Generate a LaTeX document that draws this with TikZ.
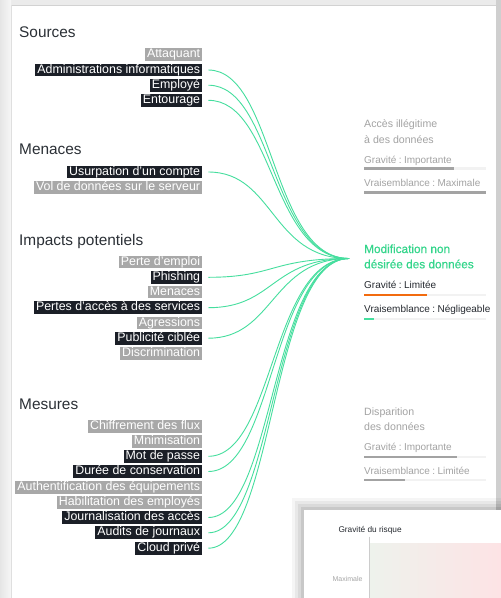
\documentclass[tikz,border=0pt]{standalone}
\usepackage{fontspec}
\setmainfont{Liberation Sans}
\newfontface\medfont[FakeBold=0.6]{Liberation Sans}
\usetikzlibrary{calc}
\definecolor{bgc}{HTML}{EBEBEB}
\definecolor{labgrey}{HTML}{A8A8A8}
\definecolor{labdark}{HTML}{1B1F27}
\definecolor{linkgreen}{HTML}{45DE9E}
\definecolor{titlec}{HTML}{2B3036}
\definecolor{mutedc}{HTML}{A3A3A3}
\definecolor{greentext}{HTML}{35D68C}
\definecolor{orangebar}{HTML}{F26B0F}
\definecolor{barbg}{HTML}{F2F2F2}
\definecolor{darktext}{HTML}{262A30}
\definecolor{gradl}{HTML}{EEF2EC}
\definecolor{gradr}{HTML}{FDE3E5}
\newcommand{\csep}{\hspace{2.4pt}:\hspace{2.4pt}}
\begin{document}
\begin{tikzpicture}[x=1pt,y=-1pt,
 lab/.style={anchor=east, text=white, font=\fontsize{12.4}{14}\selectfont, inner xsep=2pt, inner ysep=0pt, text height=9.6pt, text depth=3.3pt},
 glab/.style={lab, fill=labgrey},
 dlab/.style={lab, fill=labdark},
 ttl/.style={anchor=base west, inner sep=0pt, text=titlec, font=\fontsize{15.4}{18}\selectfont},
 conn/.style={draw=linkgreen, line width=0.9pt},
 rhead/.style={anchor=base west, inner sep=0pt, font=\fontsize{10.6}{13}\selectfont},
 rheadhl/.style={anchor=base west, inner sep=0pt, font=\medfont\fontsize{11.8}{13}\selectfont},
 rsub/.style={anchor=base west, inner sep=0pt, font=\fontsize{10}{12}\selectfont}
]
\useasboundingbox (0,0) rectangle (501,598);
% background and panel
\fill[bgc] (0,0) rectangle (501,598);
\shade[left color=gray!20, right color=gray!7] (0,0) rectangle (11,598);
\fill[gray!38] (496,0) rectangle (501,598);
\fill[white] (11,5) rectangle (496,598);
\draw[gray!35, line width=0.8pt] (11,5.4) -- (496,5.4);
\draw[gray!25, line width=0.8pt] (11.4,5) -- (11.4,598);

% titles
\node[ttl] (tsrc) at (19,37.7) {Sources};
\node[ttl] (tmen) at (19,154.3) {Menaces};
\node[ttl] (timp) at (19,245) {Impacts potentiels};
\node[ttl] (tmes) at (19,409.3) {Mesures};

% labels
\node[glab] (att) at (202.3,54.7) {Attaquant};
\node[dlab] (adm) at (202.3,70) {Administrations informatiques};
\node[dlab] (emp) at (202.3,85.2) {Employé};
\node[dlab] (ent) at (202.3,100.3) {Entourage};

\node[dlab] (usu) at (202.3,172) {Usurpation d’un compte};
\node[glab] (vol) at (202.3,187.3) {Vol de données sur le serveur};

\node[glab] (per) at (202.3,262) {Perte d’emploi};
\node[dlab] (phi) at (202.3,277.3) {Phishing};
\node[glab] (mna) at (202.3,292) {Menaces};
\node[dlab] (pac) at (202.3,307.7) {Pertes d’accès à des services};
\node[glab] (agr) at (202.3,323) {Agressions};
\node[dlab] (pub) at (202.3,338.2) {Publicité ciblée};
\node[glab] (dis) at (202.3,353.5) {Discrimination};

\node[glab] (chi) at (202.3,426.2) {Chiffrement des flux};
\node[glab] (mni) at (202.3,441.3) {Mnimisation};
\node[dlab] (mot) at (202.3,456.3) {Mot de passe};
\node[dlab] (dur) at (202.3,471.5) {Durée de conservation};
\node[glab] (aut) at (202.3,487.2) {Authentification des équipements};
\node[glab] (hab) at (202.3,502.3) {Habilitation des employés};
\node[dlab] (jou) at (202.3,517.5) {Journalisation des accès};
\node[dlab] (aud) at (202.3,532.8) {Audits de journaux};
\node[dlab] (clo) at (202.3,548.2) {Cloud privé};

% hub
\coordinate (hub) at (349,258.5);
\foreach \n in {adm,emp,ent,usu,phi,pac,pub,mot,dur,jou,aud,clo}{
  \draw[conn] ([xshift=6pt]\n.east) .. controls +(66,0) and +(-78,0) .. (hub);
}

% right side: scenario 1
\node[rhead, text=mutedc] (s1a) at (364,127.7) {Accès illégitime};
\node[rhead, text=mutedc] (s1b) at (364,143.3) {à des données};
\node[rsub, text=mutedc] (s1g) at (364,163.3) {Gravité\csep Importante};
\fill[barbg] (364,167) rectangle (486,169.6);
\fill[mutedc] (364,167) rectangle (454,169.6);
\node[rsub, text=mutedc] (s1v) at (364,186.5) {Vraisemblance\csep Maximale};
\fill[mutedc] (364,191) rectangle (486,193.6);

% scenario 2 (highlighted)
\node[rheadhl, text=greentext] (s2a) at (364,253) {Modification non};
\node[rheadhl, text=greentext] (s2b) at (364,268.3) {désirée des données};
\node[rsub, text=darktext] (s2g) at (364,288.3) {Gravité\csep Limitée};
\fill[barbg] (364,293.6) rectangle (486,296.2);
\fill[orangebar] (364,293.6) rectangle (427,296.2);
\node[rsub, text=darktext] (s2v) at (364,312.7) {Vraisemblance\csep Négligeable};
\fill[barbg] (364,317.5) rectangle (486,320.1);
\fill[linkgreen] (364,317.5) rectangle (373.5,320.1);

% scenario 3
\node[rhead, text=mutedc] (s3a) at (364,415) {Disparition};
\node[rhead, text=mutedc] (s3b) at (364,430.5) {des données};
\node[rsub, text=mutedc] (s3g) at (364,450.5) {Gravité\csep Importante};
\fill[barbg] (364,455.5) rectangle (486,458.1);
\fill[mutedc] (364,455.5) rectangle (457,458.1);
\node[rsub, text=mutedc] (s3v) at (364,474) {Vraisemblance\csep Limitée};
\fill[barbg] (364,478.8) rectangle (486,481.4);
\fill[mutedc] (364,478.8) rectangle (405,481.4);

% inset card with soft shadow
\foreach \d/\o in {12/0.04,9/0.05,6/0.06,3/0.08}{
  \fill[black, opacity=\o] (304-\d,510-\d) rectangle (501,598);
}
\fill[white] (304,510) rectangle (501,598);
\node[anchor=base west, inner sep=0pt, text=darktext, font=\fontsize{8.3}{10}\selectfont] (gtitle) at (338.3,532.7) {Gravité du risque};
\shade[left color=gradl, right color=gradr] (370,543.3) rectangle (501,598);
\draw[gray!40, line width=0.6pt] (369.3,536.7) -- (369.3,598);
\node[anchor=base east, inner sep=0pt, text=gray!70, font=\fontsize{7}{8}\selectfont] (gmax) at (362.7,581.7) {Maximale};
\end{tikzpicture}
\end{document}
